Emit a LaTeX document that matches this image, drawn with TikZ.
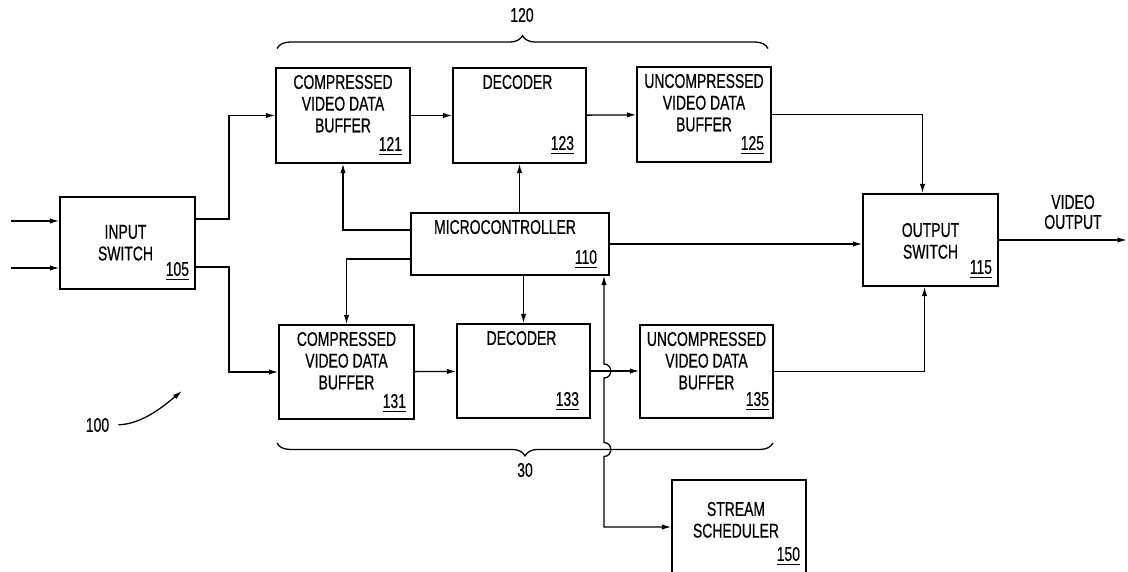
\documentclass[tikz,border=0pt]{standalone}
\usepackage{fontspec}
\setmainfont{Liberation Sans}[FakeStretch=0.7, FakeBold=0.6]
\usetikzlibrary{arrows.meta,decorations.pathreplacing,positioning}
\newsavebox{\numbox}
\newcommand{\ulnum}[1]{\sbox{\numbox}{#1}\rlap{\usebox{\numbox}}\raisebox{-3.5pt}{\rule{\wd\numbox}{1pt}}}

\begin{document}
\begin{tikzpicture}[x=0.03cm, y=-0.03cm, line width=1.1pt,
    >={Latex[length=8pt,width=4.5pt]},
    every node/.style={font=\fontsize{17}{18.5}\selectfont},
    blk/.style 2 args={draw, minimum width=#1*0.03cm, minimum height=#2*0.03cm, inner sep=0pt},
    txt/.style={anchor=north, align=center, inner sep=0pt},
    refno/.style={anchor=south east, inner sep=0pt},
    grp/.style={decorate, decoration={brace, amplitude=11pt}}
  ]
  \useasboundingbox (0,0) rectangle (1128,572);
  \clip (0,0) rectangle (1128,572);

  % input and output switches
  \node[blk={135}{92}] (isw) at (127.5,243) {};
  \node[txt] (iswt) at ([shift={(-2,28)}]isw.north) {INPUT\\SWITCH};
  \node[refno] (iswn) at ([shift={(-6,-9)}]isw.south east) {\ulnum{105}};
  \node[blk={135}{92}] (osw) at (930.5,240) {};
  \node[txt] (oswt) at ([shift={(0,29)}]osw.north) {OUTPUT\\SWITCH};
  \node[refno] (oswn) at ([shift={(-6,-8)}]osw.south east) {\ulnum{115}};

  % upper decoder path 120
  \node[blk={134}{95}] (cvb1) at (343,115.5) {};
  \node[txt] (cvb1t) at ([shift={(0,7)}]cvb1.north) {COMPRESSED\\VIDEO DATA\\BUFFER};
  \node[refno] (cvb1n) at ([shift={(-8,-8)}]cvb1.south east) {\ulnum{121}};
  \node[blk={133}{95}] (dec1) at (519.5,115.5) {};
  \node[txt] (dec1t) at ([shift={(-2,7)}]dec1.north) {DECODER};
  \node[refno] (dec1n) at ([shift={(-12,-9)}]dec1.south east) {\ulnum{123}};
  \node[blk={134}{95}] (uvb1) at (704,114.5) {};
  \node[txt] (uvb1t) at ([shift={(0,7)}]uvb1.north) {UNCOMPRESSED\\VIDEO DATA\\BUFFER};
  \node[refno] (uvb1n) at ([shift={(-7,-8)}]uvb1.south east) {\ulnum{125}};

  % microcontroller
  \node[blk={198}{62}] (mc) at (510,244) {};
  \node[txt] (mct) at ([shift={(-5,7)}]mc.north) {MICROCONTROLLER};
  \node[refno] (mcn) at ([shift={(-12,-7)}]mc.south east) {\ulnum{110}};

  % lower decoder path 30
  \node[blk={135}{94}] (cvb2) at (346.5,372) {};
  \node[txt] (cvb2t) at ([shift={(0,7)}]cvb2.north) {COMPRESSED\\VIDEO DATA\\BUFFER};
  \node[refno] (cvb2n) at ([shift={(-8,-7)}]cvb2.south east) {\ulnum{131}};
  \node[blk={133}{94}] (dec2) at (523.5,371) {};
  \node[txt] (dec2t) at ([shift={(-2,7)}]dec2.north) {DECODER};
  \node[refno] (dec2n) at ([shift={(-11,-8)}]dec2.south east) {\ulnum{133}};
  \node[blk={133}{93}] (uvb2) at (706.5,371.5) {};
  \node[txt] (uvb2t) at ([shift={(0,7)}]uvb2.north) {UNCOMPRESSED\\VIDEO DATA\\BUFFER};
  \node[refno] (uvb2n) at ([shift={(-4,-8)}]uvb2.south east) {\ulnum{135}};

  % stream scheduler
  \node[blk={134}{94}] (sch) at (739,527) {};
  \node[txt] (scht) at ([shift={(-3,22)}]sch.north) {STREAM\\SCHEDULER};
  \node[refno] (schn) at ([shift={(-6,-9)}]sch.south east) {\ulnum{150}};

  % labels
  \node (g120) at (522,15) {120};
  \node (g30) at (525,470) {30};
  \node[align=center, font=\fontsize{17}{17}\selectfont] (vo) at (1073,212) {VIDEO\\OUTPUT};
  \node (fig) at (97.5,425) {100};

  \coordinate (in1) at (11,221);
  \coordinate (in2) at (11,268);
  \coordinate (jx) at (229,243);
  \coordinate (hop1) at (604,371);
  \coordinate (hop2) at (604,449.5);
  \coordinate (vout) at (1127,240);
  \coordinate (figtip) at (182,391);

  % braces
  \draw[grp] (277,48.5) -- (768,48.5);
  \draw[grp] (773,443) -- (277,443);

  % connectors
  \draw[->] (in1) -- (in1 -| isw.west);
  \draw[->] (in2) -- (in2 -| isw.west);
  \draw[->] ([shift={(0,-24)}]isw.east) -| (jx |- cvb1.west) -- (cvb1.west);
  \draw[->] ([shift={(0,24)}]isw.east) -| (jx |- cvb2.west) -- (cvb2.west);
  \draw[->] (cvb1) -- (dec1);
  \draw[->] (dec1) -- (uvb1);
  \draw[->] (cvb2) -- (dec2);
  \draw[->] (dec2.east) -- (dec2.east -| uvb2.west);
  \draw[->] ([shift={(0,-14)}]mc.west) -| (cvb1.south);
  \draw[->] ([shift={(0,15)}]mc.west) -| (cvb2.north);
  \draw[->] (dec1.south |- mc.north) -- (dec1.south);
  \draw[->] (dec2.north |- mc.south) -- (dec2.north);
  \draw[->] (mc.east) -- (mc.east -| osw.west);
  \draw[->] (uvb1.east) -| ([shift={(-8,0)}]osw.north);
  \draw[->] (uvb2.east) -| ([shift={(-6,0)}]osw.south);
  \draw[->] (osw.east) -- (vout);
  \draw[<->] (mc.south -| hop1) -- ([shift={(0,-7)}]hop1)
    .. controls +(9,0) and +(9,0) .. ([shift={(0,7)}]hop1)
    -- ([shift={(0,-7)}]hop2)
    .. controls +(9,0) and +(9,0) .. ([shift={(0,7)}]hop2)
    |- (sch.west);
  \draw[->, shorten <=4pt] (fig.east) .. controls +(30,-1) and +(-16,13) .. (figtip);
\end{tikzpicture}
\end{document}
